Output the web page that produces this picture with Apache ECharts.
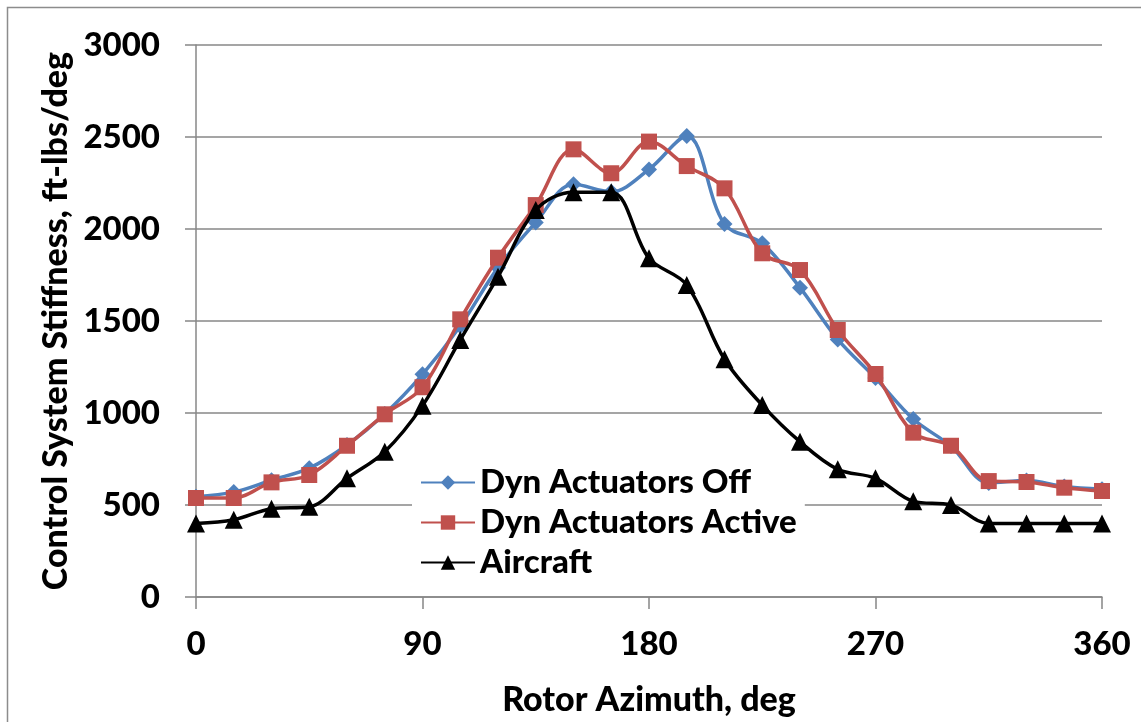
<!DOCTYPE html>
<html>
<head>
<meta charset="utf-8">
<title>Control System Stiffness</title>
<script src="https://cdn.jsdelivr.net/npm/echarts@6/dist/echarts.min.js"></script>
<style>
  html, body { margin: 0; padding: 0; background: #fff; }
  #main { width: 1141px; height: 722px; }
</style>
</head>
<body>
<div id="main"></div>
<script>
// rotor azimuth, deg (every 15 deg)
const azimuth = [0, 15, 30, 45, 60, 75, 90, 105, 120, 135, 150, 165, 180,
  195, 210, 225, 240, 255, 270, 285, 300, 315, 330, 345, 360]
// control system stiffness, ft-lbs/deg
const dynOff = [545, 570, 635, 700, 826, 995, 1210, 1473, 1790, 2036, 2243, 2203, 2324,
  2505, 2027, 1922, 1681, 1400, 1190, 967, 820, 620, 633, 600, 585]
const dynActive = [538, 538, 623, 663, 822, 993, 1140, 1509, 1844, 2130, 2433, 2303, 2475,
  2342, 2221, 1868, 1777, 1451, 1212, 893, 822, 630, 625, 594, 576]
const aircraft = [400, 420, 480, 490, 645, 790, 1040, 1397, 1741, 2103, 2200, 2200, 1841,
  1696, 1292, 1043, 844, 694, 645, 520, 500, 400, 400, 400, 400]
const xTicks = [0, 90, 180, 270, 360]
const yTicks = [0, 500, 1000, 1500, 2000, 2500, 3000]

const pairs = vals => azimuth.map((x, i) => [x, vals[i]])

const font = 'Lato, "Open Sans", sans-serif'
const gray = '#878787'

const chart = echarts.init(document.getElementById('main'))
const option = {
  animation: false,
  backgroundColor: '#fff',
  graphic: [{
    type: 'rect',
    shape: { x: 7.5, y: 7.5, width: 1200, height: 800 },
    style: { fill: 'none', stroke: '#8c8c8c', lineWidth: 1.5 },
    silent: true,
    z: -1
  }],
  grid: {
    left: 196,
    right: 39,
    top: 45,
    bottom: 125
  },
  legend: {
    orient: 'vertical',
    left: 412,
    top: 462,
    padding: [4, 8, 4, 8],
    backgroundColor: '#fff',
    itemWidth: 54,
    itemHeight: 18,
    itemGap: 7,
    textStyle: { fontFamily: font, fontWeight: 900, fontSize: 33, color: '#000' },
    data: ['Dyn Actuators Off', 'Dyn Actuators Active', 'Aircraft']
  },
  xAxis: {
    type: 'value',
    min: xTicks[0],
    max: xTicks[xTicks.length - 1],
    interval: 90,
    name: 'Rotor Azimuth, deg',
    nameLocation: 'middle',
    nameGap: 86,
    nameTextStyle: { fontFamily: font, fontWeight: 900, fontSize: 34, color: '#000' },
    axisLine: { show: true, lineStyle: { color: gray, width: 1.5 } },
    axisTick: { show: true, inside: false, length: 12, lineStyle: { color: gray, width: 1.5 } },
    splitLine: { show: false },
    axisLabel: { fontFamily: font, fontWeight: 900, fontSize: 33, color: '#000', margin: 31 }
  },
  yAxis: {
    type: 'value',
    min: yTicks[0],
    max: yTicks[yTicks.length - 1],
    interval: 500,
    name: 'Control System Stiffness, ft-lbs/deg',
    nameLocation: 'middle',
    nameGap: 96,
    nameTextStyle: { fontFamily: font, fontWeight: 900, fontSize: 34, color: '#000' },
    axisLine: { show: true, lineStyle: { color: gray, width: 1.5 } },
    axisTick: { show: true, inside: false, length: 11, lineStyle: { color: gray, width: 1.5 } },
    splitLine: { show: true, lineStyle: { color: gray, width: 1.5 } },
    axisLabel: {
      fontFamily: font, fontWeight: 900, fontSize: 33, color: '#000', margin: 36,
      formatter: v => String(v)
    }
  },
  series: [
    {
      name: 'Dyn Actuators Off',
      type: 'line',
      data: pairs(dynOff),
      smooth: 0.35,
      symbol: 'diamond',
      symbolSize: 16,
      lineStyle: { color: '#4F81BD', width: 3.5 },
      itemStyle: { color: '#4F81BD' },
      z: 2
    },
    {
      name: 'Dyn Actuators Active',
      type: 'line',
      data: pairs(dynActive),
      smooth: 0.35,
      symbol: 'rect',
      symbolSize: 16,
      lineStyle: { color: '#C0504D', width: 3.5 },
      itemStyle: { color: '#C0504D' },
      z: 3
    },
    {
      name: 'Aircraft',
      type: 'line',
      data: pairs(aircraft),
      smooth: 0.35,
      symbol: 'triangle',
      symbolSize: 18,
      lineStyle: { color: '#000', width: 3.5 },
      itemStyle: { color: '#000' },
      z: 4
    }
  ]
}
chart.setOption(option)
</script>
</body>
</html>
